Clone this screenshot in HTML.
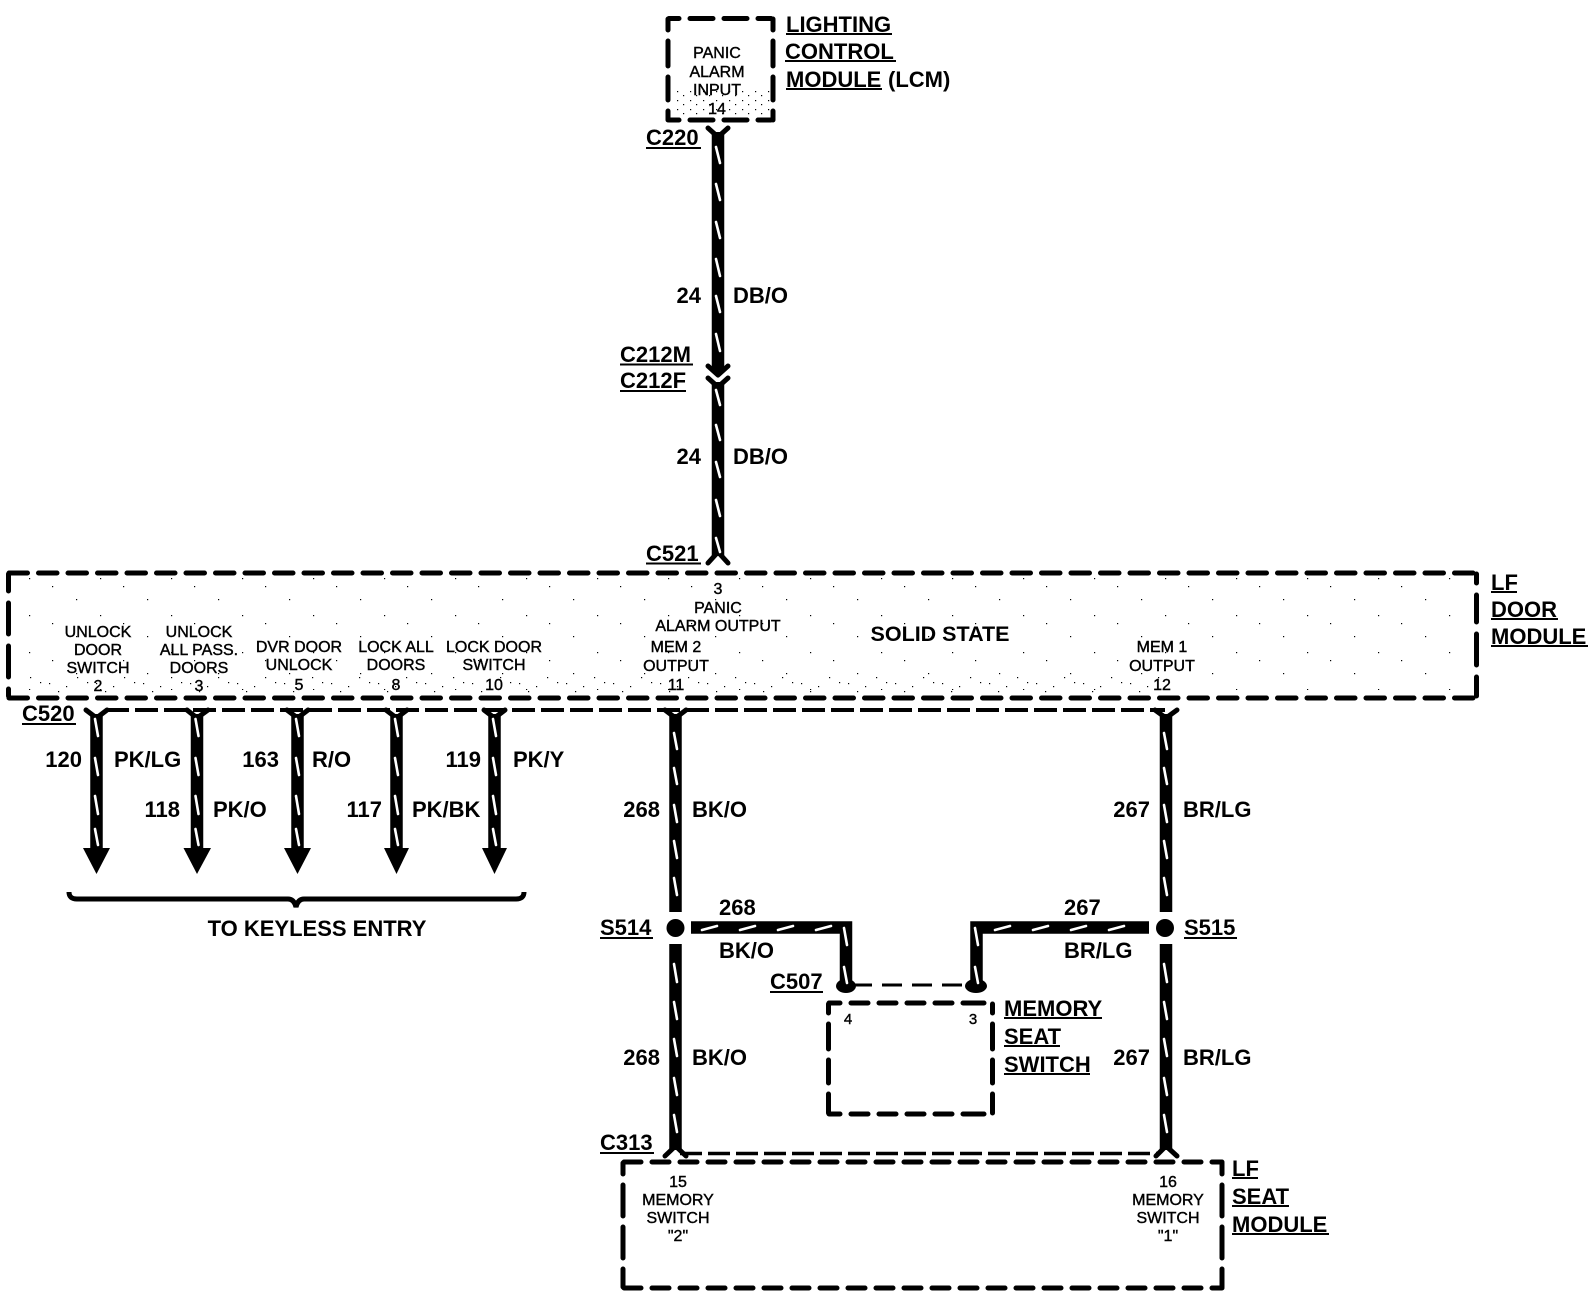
<!DOCTYPE html>
<html>
<head>
<meta charset="utf-8">
<style>
html,body{margin:0;padding:0;background:#fff}
svg{display:block}
text{font-family:"Liberation Sans",sans-serif;fill:#000}
.b{font-weight:bold;font-size:22px}
.s{font-size:16px;text-anchor:middle;stroke:#000;stroke-width:.4px}
.e{text-anchor:end}
.m{text-anchor:middle}
.box{fill:none;stroke:#000;stroke-width:5;stroke-linecap:round}
.w{fill:none;stroke:#000;stroke-width:12.5}
.mk{fill:none;stroke:#fff;stroke-width:2.6;stroke-linecap:round}
.y{fill:none;stroke:#000;stroke-width:5;stroke-linecap:round;stroke-linejoin:round}
.u{stroke:#000;stroke-width:2}
</style>
</head>
<body>
<svg width="1594" height="1296" viewBox="0 0 1594 1296" xmlns="http://www.w3.org/2000/svg">
<defs>
<pattern id="sp" width="47" height="17" patternUnits="userSpaceOnUse">
<rect x="2" y="3" width="1.2" height="1.2"/><rect x="11" y="11" width="1.2" height="1.2"/><rect x="19" y="6" width="1.2" height="1.2"/><rect x="30" y="14" width="1.2" height="1.2"/><rect x="40" y="2" width="1.2" height="1.2"/>
</pattern>
<pattern id="sp2" width="13" height="9" patternUnits="userSpaceOnUse">
<rect x="1" y="1" width="1.2" height="1.2"/><rect x="7" y="5" width="1.2" height="1.2"/>
</pattern>
<pattern id="sp3" width="71" height="37" patternUnits="userSpaceOnUse">
<rect x="5" y="7" width="1.2" height="1.2"/><rect x="29" y="23" width="1.2" height="1.2"/><rect x="52" y="31" width="1.2" height="1.2"/>
</pattern>
</defs>
<rect width="1594" height="1296" fill="#fff"/>

<!-- speckle -->
<rect x="672" y="88" width="98" height="28" fill="url(#sp2)"/>
<rect x="30" y="676" width="1130" height="17" fill="url(#sp)"/>
<rect x="20" y="578" width="1440" height="112" fill="url(#sp3)"/>

<!-- LCM box -->
<g class="box">
<line x1="669" y1="18.500" x2="774" y2="18.500" stroke-dasharray="10 11 23 11 23 11 13"/>
<line x1="669" y1="120" x2="774" y2="120" stroke-dasharray="10 11 23 11 23 11 13"/>
<line x1="668" y1="19" x2="668" y2="120" stroke-dasharray="11 11 25 11 23 11 9"/>
<line x1="773" y1="19" x2="773" y2="120" stroke-dasharray="11 11 25 11 23 11 9"/>
</g>

<!-- Door module box -->
<g class="box">
<line x1="9" y1="573" x2="1476" y2="573" stroke-dasharray="18.500 11"/>
<line x1="9" y1="698" x2="1476" y2="698" stroke-dasharray="18.500 11"/>
<line x1="8.500" y1="574" x2="8.500" y2="696" stroke-dasharray="17 12 31 12 31 12 9"/>
<line x1="1476.500" y1="574" x2="1476.500" y2="696" stroke-dasharray="9 12 27 12 31 12 31"/>
</g>

<!-- C520 dashed line, C313 dashed line -->
<line x1="106" y1="710" x2="1165" y2="710" stroke="#000" stroke-width="4" stroke-dasharray="23 6"/>
<line x1="680" y1="1153.500" x2="1160" y2="1153.500" stroke="#000" stroke-width="3.500" stroke-dasharray="22 6"/>
<line x1="852" y1="985" x2="970" y2="985" stroke="#000" stroke-width="3" stroke-dasharray="20 10"/>

<!-- Memory switch box -->
<g class="box">
<line x1="829" y1="1003" x2="992" y2="1003" stroke-dasharray="11 11 17 11 17 11 17 11 17 11 21"/>
<line x1="829" y1="1114" x2="992" y2="1114" stroke-dasharray="11 11 17 11 17 11 17 11 17 11 21"/>
<line x1="828.500" y1="1004" x2="828.500" y2="1113" stroke-dasharray="9 11 25 11 23 11 19"/>
<line x1="992.500" y1="1004" x2="992.500" y2="1113" stroke-dasharray="9 11 25 11 23 11 19"/>
</g>

<!-- Seat module box -->
<g class="box">
<line x1="624" y1="1162" x2="1222" y2="1162" stroke-dasharray="17 11"/>
<line x1="624" y1="1288" x2="1222" y2="1288" stroke-dasharray="17 11"/>
<line x1="623" y1="1163" x2="623" y2="1287" stroke-dasharray="11 11 31 11 31 11 19"/>
<line x1="1222" y1="1163" x2="1222" y2="1287" stroke-dasharray="11 11 31 11 31 11 19"/>
</g>

<!-- Wires -->
<g class="w">
<path d="M718 132V372"/>
<path d="M718 382V556"/>
<path d="M96.500 714V848"/>
<path d="M197 714V848"/>
<path d="M297.500 714V848"/>
<path d="M396.500 714V848"/>
<path d="M494.500 714V848"/>
<path d="M675.500 714V912"/>
<path d="M675.500 944V1150"/>
<path d="M1166 714V912"/>
<path d="M1166 944V1150"/>
<path d="M691 927.500H846V982"/>
<path d="M1149 927.500H976.500V982"/>
</g>

<!-- Y connectors -->
<g class="y">
<path d="M708 128L718 137L728 128"/>
<path d="M708 366L718 375L728 366"/>
<path d="M708 378L718 387L728 378"/>
<path d="M708 563L718 552L728 563"/>
<path d="M86 710L96.500 718L107 710"/>
<path d="M187 710L197 718L208 710"/>
<path d="M287 710L297.500 718L308 710"/>
<path d="M386 710L396.500 718L407 710"/>
<path d="M484 710L494.500 718L505 710"/>
<path d="M665 710L675.500 718L686 710"/>
<path d="M1155 710L1166 718L1177 710"/>
<path d="M665 1156L675.500 1146L686 1156"/>
<path d="M1156 1156L1166 1146L1177 1156"/>
</g>

<!-- Arrowheads -->
<g fill="#000">
<path d="M83 848H110L96.500 874Z"/>
<path d="M183.500 848H211L197 874Z"/>
<path d="M284 848H311L297.500 874Z"/>
<path d="M384 848H409L396.500 874Z"/>
<path d="M482 848H507L494.500 874Z"/>
<circle cx="675.500" cy="928" r="9"/>
<circle cx="1165" cy="928" r="9"/>
<ellipse cx="846" cy="986" rx="10" ry="7"/>
<ellipse cx="976" cy="986" rx="11" ry="7"/>
</g>

<!-- Wire tracer marks -->
<g class="mk">
<path d="M716 147l4 16M716 184l4 16M716 222l4 16M716 259l4 17M716 296l4 16M716 334l4 17M716 390l4 15M716 425l4 15M716 462l4 15M716 500l4 16M716 538l4 14"/>
<path d="M95 719l3 17M95 758l3 17M95 796l3 18M95 829l3 16"/>
<path d="M195.500 719l3 17M195.500 758l3 17M195.500 796l3 18M195.500 829l3 16"/>
<path d="M296 719l3 17M296 758l3 17M296 796l3 18M296 829l3 16"/>
<path d="M395 719l3 17M395 758l3 17M395 796l3 18M395 829l3 16"/>
<path d="M493 719l3 17M493 758l3 17M493 796l3 18M493 829l3 16"/>
<path d="M674 733l3 16M674 768l3 16M674 805l3 17M674 841l3 17M674 878l3 17"/>
<path d="M1164 733l3 16M1164 768l3 16M1164 805l3 17M1164 841l3 17M1164 878l3 17"/>
<path d="M674 964l3 18M674 1002l3 17M674 1039l3 17M674 1078l3 17M674 1115l3 17"/>
<path d="M1164 964l3 18M1164 1002l3 17M1164 1039l3 17M1164 1078l3 17M1164 1115l3 17"/>
<path d="M702 930l15 -4M740 930l15 -4M778 930l15 -4M816 930l15 -4"/>
<path d="M995 930l15 -4M1033 930l15 -4M1071 930l15 -4M1109 930l15 -4"/>
<path d="M844 928l3 17M844 967l3 16M975 928l3 17M975 967l3 16"/>
</g>

<!-- Brace -->
<path d="M69 892Q69 899 77 899H288Q294 899 296 907Q298 899 304 899H516Q524 899 524 892" fill="none" stroke="#000" stroke-width="5"/>

<!-- LCM labels -->
<text class="b" x="786" y="32">LIGHTING</text><line class="u" x1="786" y1="34" x2="892" y2="34"/>
<text class="b" x="785" y="59">CONTROL</text><line class="u" x1="785" y1="61" x2="896" y2="61"/>
<text class="b" x="786" y="87">MODULE</text><line class="u" x1="786" y1="89" x2="882" y2="89"/>
<text class="b" x="888" y="87">(LCM)</text>
<text class="s" x="717" y="58">PANIC</text>
<text class="s" x="717" y="77">ALARM</text>
<text class="s" x="717" y="95">INPUT</text>
<text class="s" x="717" y="114">14</text>

<text class="b" x="646" y="145">C220</text><line class="u" x1="646" y1="148" x2="701" y2="148"/>
<text class="b e" x="701" y="303">24</text><text class="b" x="733" y="303">DB/O</text>
<text class="b" x="620" y="362">C212M</text><line class="u" x1="620" y1="364.500" x2="693" y2="364.500"/>
<text class="b" x="620" y="388">C212F</text><line class="u" x1="620" y1="391" x2="686" y2="391"/>
<text class="b e" x="701" y="464">24</text><text class="b" x="733" y="464">DB/O</text>
<text class="b" x="646" y="561">C521</text><line class="u" x1="646" y1="563.500" x2="701" y2="563.500"/>

<!-- LF door labels -->
<text class="b" x="1491" y="590">LF</text><line class="u" x1="1491" y1="592" x2="1517" y2="592"/>
<text class="b" x="1491" y="617">DOOR</text><line class="u" x1="1491" y1="619" x2="1558" y2="619"/>
<text class="b" x="1491" y="644">MODULE</text><line class="u" x1="1491" y1="646" x2="1588" y2="646"/>

<!-- door module pins -->
<text class="s" x="98" y="637">UNLOCK</text><text class="s" x="98" y="655">DOOR</text><text class="s" x="98" y="673">SWITCH</text><text class="s" x="98" y="691">2</text>
<text class="s" x="199" y="637">UNLOCK</text><text class="s" x="199" y="655">ALL PASS.</text><text class="s" x="199" y="673">DOORS</text><text class="s" x="199" y="691">3</text>
<text class="s" x="299" y="652">DVR DOOR</text><text class="s" x="299" y="670">UNLOCK</text><text class="s" x="299" y="690">5</text>
<text class="s" x="396" y="652">LOCK ALL</text><text class="s" x="396" y="670">DOORS</text><text class="s" x="396" y="690">8</text>
<text class="s" x="494" y="652">LOCK DOOR</text><text class="s" x="494" y="670">SWITCH</text><text class="s" x="494" y="690">10</text>
<text class="s" x="718" y="594">3</text><text class="s" x="718" y="613">PANIC</text><text class="s" x="718" y="631">ALARM OUTPUT</text>
<text class="s" x="676" y="652">MEM 2</text><text class="s" x="676" y="671">OUTPUT</text><text class="s" x="676" y="690">11</text>
<text class="s" x="1162" y="652">MEM 1</text><text class="s" x="1162" y="671">OUTPUT</text><text class="s" x="1162" y="690">12</text>
<text class="b m" x="940" y="641" style="font-size:21.500px">SOLID STATE</text>

<text class="b" x="22" y="721">C520</text><line class="u" x1="22" y1="724" x2="76" y2="724"/>

<!-- wire labels -->
<text class="b e" x="82" y="767">120</text><text class="b" x="114" y="767">PK/LG</text>
<text class="b e" x="180" y="817">118</text><text class="b" x="213" y="817">PK/O</text>
<text class="b e" x="279" y="767">163</text><text class="b" x="312" y="767">R/O</text>
<text class="b e" x="382" y="817">117</text><text class="b" x="412" y="817">PK/BK</text>
<text class="b e" x="481" y="767">119</text><text class="b" x="513" y="767">PK/Y</text>
<text class="b e" x="660" y="817">268</text><text class="b" x="692" y="817">BK/O</text>
<text class="b e" x="1150" y="817">267</text><text class="b" x="1183" y="817">BR/LG</text>
<text class="b m" x="317" y="936">TO KEYLESS ENTRY</text>

<text class="b" x="719" y="915">268</text><text class="b" x="719" y="958">BK/O</text>
<text class="b" x="1064" y="915">267</text><text class="b" x="1064" y="958">BR/LG</text>
<text class="b" x="600" y="935">S514</text><line class="u" x1="600" y1="938" x2="653" y2="938"/>
<text class="b" x="1184" y="935">S515</text><line class="u" x1="1184" y1="938" x2="1237" y2="938"/>
<text class="b" x="770" y="989">C507</text><line class="u" x1="770" y1="992" x2="823" y2="992"/>

<text class="b" x="1004" y="1016">MEMORY</text><line class="u" x1="1004" y1="1018" x2="1102" y2="1018"/>
<text class="b" x="1004" y="1044">SEAT</text><line class="u" x1="1004" y1="1046" x2="1060" y2="1046"/>
<text class="b" x="1004" y="1072">SWITCH</text><line class="u" x1="1004" y1="1074" x2="1090" y2="1074"/>
<text class="s" x="848" y="1024" style="font-size:15px">4</text>
<text class="s" x="973" y="1024" style="font-size:15px">3</text>

<text class="b e" x="660" y="1065">268</text><text class="b" x="692" y="1065">BK/O</text>
<text class="b e" x="1150" y="1065">267</text><text class="b" x="1183" y="1065">BR/LG</text>

<text class="b" x="600" y="1150">C313</text><line class="u" x1="600" y1="1153" x2="654" y2="1153"/>

<!-- seat module -->
<text class="s" x="678" y="1187">15</text><text class="s" x="678" y="1205">MEMORY</text><text class="s" x="678" y="1223">SWITCH</text><text class="s" x="678" y="1241">"2"</text>
<text class="s" x="1168" y="1187">16</text><text class="s" x="1168" y="1205">MEMORY</text><text class="s" x="1168" y="1223">SWITCH</text><text class="s" x="1168" y="1241">"1"</text>

<text class="b" x="1232" y="1176">LF</text><line class="u" x1="1232" y1="1178" x2="1258" y2="1178"/>
<text class="b" x="1232" y="1204">SEAT</text><line class="u" x1="1232" y1="1206" x2="1289" y2="1206"/>
<text class="b" x="1232" y="1232">MODULE</text><line class="u" x1="1232" y1="1234" x2="1329" y2="1234"/>
</svg>
</body>
</html>
